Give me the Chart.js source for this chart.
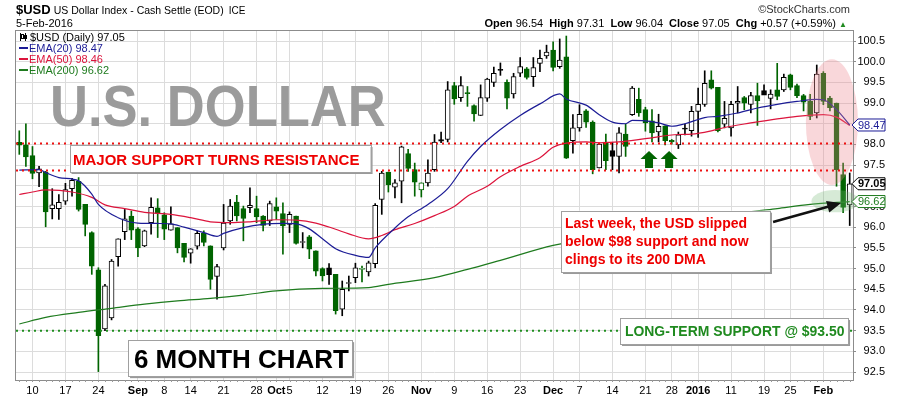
<!DOCTYPE html>
<html>
<head>
<meta charset="utf-8">
<script src="https://cdn.jsdelivr.net/npm/chart.js@4.4.1/dist/chart.umd.min.js"></script>
<style>
  html, body { margin: 0; padding: 0; background: #fff; }
  #wrap { width: 900px; height: 396px; }
</style>
</head>
<body>
<div id="wrap"><canvas id="usdChart" width="900" height="396"></canvas></div>
<script>
// $USD daily candles, 6 Aug 2015 .. 5 Feb 2016 (one entry per trading day)
const opens = [
  98.05, 97.99, 97.73, 97.31, 97.33, 96.45, 96.45, 96.63, 96.93, 97.11,
  96.55, 95.87, 94.97, 93.54, 93.81, 95.29, 95.89, 96.27, 95.96, 95.55,
  96.11, 96.47, 96.30, 95.93, 95.99, 95.61, 95.37, 95.54, 95.85, 95.55,
  94.81, 95.50, 96.15, 96.61, 96.45, 96.47, 96.45, 96.27, 96.15, 96.49,
  96.33, 96.07, 96.27, 95.63, 95.77, 95.43, 95.00, 95.02, 94.86, 94.02,
  94.64, 94.78, 94.98, 94.92, 95.12, 96.67, 97.33, 96.97, 97.11, 97.78,
  97.39, 96.90, 97.07, 97.39, 98.12, 98.12, 99.42, 99.13, 99.25, 98.94,
  98.70, 99.12, 99.50, 99.80, 99.50, 99.22, 99.72, 99.83, 99.64, 99.96,
  100.14, 100.28, 99.88, 100.12, 98.09, 98.40, 98.81, 98.54, 97.43, 98.06,
  97.85, 97.71, 98.25, 98.72, 99.09, 98.84, 98.57, 98.30, 98.45, 98.10,
  97.99, 98.39, 98.33, 98.80, 98.97, 99.56, 99.38, 98.49, 98.40, 99.00,
  99.13, 98.97, 99.18, 99.30, 99.11, 99.32, 99.32, 99.68, 99.42, 99.18,
  99.04, 98.76, 99.72, 99.12, 99.00, 97.27, 96.54
];
const highs = [
  98.33, 98.50, 97.95, 97.47, 97.35, 96.93, 96.79, 97.06, 97.18, 97.20,
  96.55, 95.89, 95.02, 94.62, 95.22, 95.72, 96.43, 96.39, 95.99, 95.93,
  96.71, 96.69, 96.35, 96.49, 95.99, 95.61, 95.48, 95.91, 95.91, 95.55,
  95.10, 96.55, 96.67, 96.77, 96.51, 96.95, 96.75, 96.28, 96.63, 96.71,
  96.59, 96.37, 96.27, 95.87, 95.80, 95.43, 95.02, 95.12, 94.86, 94.70,
  94.82, 95.13, 95.06, 95.18, 96.57, 97.35, 97.33, 97.15, 97.96, 97.88,
  97.55, 97.07, 97.63, 98.24, 98.30, 99.52, 99.50, 99.64, 99.40, 98.96,
  99.44, 99.60, 99.87, 99.97, 99.56, 99.72, 100.10, 99.86, 100.10, 100.28,
  100.40, 100.48, 100.55, 100.62, 98.72, 98.96, 98.84, 98.57, 98.03, 98.25,
  98.05, 98.41, 98.49, 99.40, 99.36, 98.90, 98.84, 98.73, 98.45, 98.12,
  98.30, 98.49, 98.92, 99.36, 99.78, 99.78, 99.38, 99.04, 99.04, 99.40,
  99.16, 99.26, 99.48, 99.44, 99.32, 99.96, 99.70, 99.70, 99.46, 99.21,
  99.21, 99.92, 99.76, 99.16, 99.00, 97.55, 97.31
];
const lows = [
  97.76, 97.47, 97.17, 96.98, 96.01, 96.20, 96.19, 96.55, 96.75, 96.39,
  95.79, 94.86, 92.51, 93.50, 93.76, 95.06, 95.70, 95.70, 95.29, 95.53,
  95.83, 95.75, 95.70, 95.93, 95.38, 95.16, 95.13, 95.47, 95.55, 94.50,
  94.26, 95.45, 96.07, 96.15, 95.67, 96.35, 96.11, 95.91, 96.04, 96.19,
  95.35, 95.87, 95.59, 95.50, 95.24, 94.82, 94.70, 94.62, 93.90, 93.86,
  94.46, 94.66, 94.68, 94.82, 95.02, 96.31, 96.85, 96.71, 96.59, 97.35,
  96.75, 96.73, 96.99, 97.35, 98.04, 98.06, 98.97, 99.04, 98.92, 98.56,
  98.70, 99.04, 99.40, 99.67, 98.86, 99.12, 99.64, 99.58, 99.40, 99.76,
  100.08, 99.78, 99.84, 97.66, 97.79, 98.32, 98.41, 97.29, 97.43, 97.39,
  97.39, 97.31, 97.71, 98.70, 98.68, 98.32, 98.06, 98.06, 97.99, 98.01,
  97.90, 98.23, 98.20, 98.17, 98.92, 99.34, 98.30, 98.40, 98.20, 98.76,
  98.84, 98.76, 98.46, 99.20, 98.86, 99.08, 99.28, 99.32, 99.13, 98.81,
  98.60, 98.64, 98.96, 98.81, 96.99, 96.35, 96.04
];
const closes = [
  97.98, 97.70, 97.30, 97.41, 96.37, 96.54, 96.60, 96.91, 97.13, 96.43,
  96.07, 95.06, 93.38, 94.58, 95.18, 95.72, 96.20, 95.93, 95.50, 95.91,
  96.48, 96.33, 95.95, 96.08, 95.50, 95.27, 95.48, 95.85, 95.63, 94.74,
  95.05, 96.10, 96.51, 96.27, 96.21, 96.53, 96.25, 96.04, 96.57, 96.39,
  96.03, 96.31, 95.61, 95.64, 95.47, 94.94, 94.82, 94.85, 93.98, 94.50,
  94.65, 95.02, 95.00, 95.14, 96.53, 97.31, 97.03, 97.07, 97.94, 97.42,
  97.09, 97.07, 97.31, 98.06, 98.08, 99.32, 99.10, 99.42, 99.23, 98.74,
  99.13, 99.58, 99.72, 99.79, 99.12, 99.64, 99.88, 99.62, 99.86, 100.08,
  100.23, 99.86, 100.04, 97.67, 98.40, 98.73, 98.54, 97.39, 98.01, 97.61,
  97.71, 98.28, 97.95, 99.36, 98.76, 98.52, 98.28, 98.44, 98.09, 98.06,
  98.23, 98.37, 98.80, 98.97, 99.48, 99.36, 98.33, 98.63, 98.97, 99.04,
  99.00, 99.18, 99.05, 99.19, 99.22, 99.16, 99.62, 99.38, 99.18, 99.02,
  98.68, 99.70, 99.04, 98.89, 97.39, 96.48, 97.05
];

const ema20At = [0, 3, 4, 6, 9, 11, 12, 15, 18, 21, 23, 25, 28, 30, 31, 34, 37, 40, 42, 44, 46, 48, 51, 53, 54, 57, 59, 62, 65, 68, 70, 73, 76, 79, 82, 83, 86, 88, 90, 92, 93, 95, 97, 99, 101, 104, 106, 109, 112, 115, 118, 121, 122, 124, 126];
const ema20 = [97.38, 97.39, 97.32, 97.20, 97.12, 96.80, 96.55, 96.23, 96.10, 96.09, 96.08, 96.00, 95.87, 95.78, 95.85, 95.99, 96.07, 96.09, 96.08, 95.96, 95.72, 95.48, 95.32, 95.27, 95.50, 95.98, 96.25, 96.55, 96.93, 97.59, 97.95, 98.36, 98.70, 98.98, 99.22, 99.10, 98.95, 98.72, 98.54, 98.50, 98.58, 98.57, 98.52, 98.44, 98.50, 98.65, 98.68, 98.76, 98.88, 98.97, 99.04, 99.09, 99.08, 98.84, 98.47];
const ema50At = [0, 2, 4, 8, 11, 13, 16, 19, 23, 26, 29, 32, 35, 39, 42, 45, 48, 50, 53, 55, 57, 60, 63, 66, 68, 71, 73, 76, 79, 81, 83, 86, 88, 91, 95, 100, 102, 105, 107, 111, 115, 118, 122, 124, 126];
const ema50 = [96.79, 96.85, 96.90, 96.85, 96.72, 96.54, 96.45, 96.36, 96.31, 96.23, 96.13, 96.11, 96.13, 96.18, 96.17, 96.10, 95.95, 95.84, 95.72, 95.80, 95.94, 96.09, 96.28, 96.50, 96.75, 96.99, 97.22, 97.47, 97.68, 97.93, 98.03, 98.06, 98.04, 98.06, 98.14, 98.24, 98.25, 98.33, 98.41, 98.52, 98.62, 98.68, 98.72, 98.66, 98.46];
const ema200At = [0, 4, 9, 14, 19, 24, 29, 34, 39, 46, 53, 56, 63, 68, 73, 81, 90, 100, 110, 115, 120, 126];
const ema200 = [93.66, 93.82, 93.94, 94.04, 94.14, 94.22, 94.28, 94.36, 94.46, 94.52, 94.54, 94.62, 94.78, 94.98, 95.20, 95.56, 95.82, 96.10, 96.35, 96.45, 96.55, 96.62];

// weekly date ticks (candle index -> label)
const tickPos = [2, 7, 12, 18, 22, 26, 31, 36, 39, 41, 46, 51, 56, 61, 66, 71, 76, 81, 85, 90, 95, 99, 103, 108, 113, 117, 122];
const tickText = ['10', '17', '24', 'Sep', '8', '14', '21', '28', 'Oct', '5', '12', '19', '26', 'Nov', '9', '16', '23', 'Dec', '7', '14', '21', '28', '2016', '11', '19', '25', 'Feb'];
const boldTicks = ['Sep', 'Oct', 'Nov', 'Dec', '2016', 'Feb'];

const FONT = '"Liberation Sans", Arial, sans-serif';
const GREEN = '#006400';
const BLUE = '#1c1c96';
const RED = '#dc143c';
const EMA_GREEN = '#1e7b1e';

const candleColor = closes.map((c, i) => (i > 0 && c >= closes[i - 1]) ? '#000000' : GREEN);
const bodyFill = closes.map((c, i) => c > opens[i] ? '#ffffff' : candleColor[i]);

function pts(at, vals) {
    return at.map((x, k) => ({ x: x, y: vals[k] }));
}

function box(ctx, x0, y0, x1, y1) {
    ctx.fillStyle = '#9a9a9a';
    ctx.fillRect(x0 + 2, y0 + 2, x1 - x0, y1 - y0);
    ctx.fillStyle = '#ffffff';
    ctx.fillRect(x0, y0, x1 - x0, y1 - y0);
    ctx.strokeStyle = '#a0a0a0';
    ctx.lineWidth = 1;
    ctx.strokeRect(Math.round(x0) + 0.5, Math.round(y0) + 0.5, Math.round(x1 - x0), Math.round(y1 - y0));
}

function priceTag(ctx, x, y, text, color, bold) {
    ctx.beginPath();
    ctx.moveTo(x, y);
    ctx.lineTo(x + 6, y - 6);
    ctx.lineTo(x + 33, y - 6);
    ctx.lineTo(x + 33, y + 6);
    ctx.lineTo(x + 6, y + 6);
    ctx.closePath();
    ctx.fillStyle = '#fff';
    ctx.fill();
    ctx.strokeStyle = color;
    ctx.lineWidth = 1;
    ctx.stroke();
    ctx.fillStyle = bold ? '#000' : color;
    ctx.font = (bold ? 'bold ' : '') + '11px ' + FONT;
    ctx.textAlign = 'left';
    ctx.textBaseline = 'middle';
    ctx.fillText(text, x + 6, y + 0.5);
}

const notesPlugin = {
    id: 'notes',
    afterDatasetsDraw(chart) {
        const ctx = chart.ctx;
        const xs = chart.scales.x, ys = chart.scales.y;
        const px = v => xs.getPixelForValue(v);
        const py = v => ys.getPixelForValue(v);
        const area = chart.chartArea;
        ctx.save();

        // highlight ellipses
        ctx.fillStyle = 'rgba(235, 130, 140, 0.32)';
        ctx.beginPath();
        ctx.ellipse(px(123.3), py(98.54), px(127.25) - px(123.3), py(97.02) - py(98.54), 0, 0, Math.PI * 2);
        ctx.fill();
        ctx.fillStyle = 'rgba(120, 185, 120, 0.30)';
        ctx.beginPath();
        ctx.ellipse(px(123.8), py(96.63), px(127.4) - px(123.8), py(96.36) - py(96.63), 0, 0, Math.PI * 2);
        ctx.fill();

        // dotted support / resistance lines
        ctx.lineWidth = 2;
        ctx.setLineDash([2, 4]);
        ctx.strokeStyle = '#ee1111';
        [98.02, 97.37].forEach(v => {
            ctx.beginPath();
            ctx.moveTo(area.left, py(v));
            ctx.lineTo(area.right, py(v));
            ctx.stroke();
        });
        ctx.strokeStyle = '#1f8f1f';
        ctx.beginPath();
        ctx.moveTo(area.left, py(93.5));
        ctx.lineTo(area.right, py(93.5));
        ctx.stroke();
        ctx.setLineDash([]);

        // big watermark title
        ctx.fillStyle = '#9b9b9b';
        ctx.font = 'bold 58px ' + FONT;
        ctx.textAlign = 'left';
        ctx.textBaseline = 'alphabetic';
        ctx.fillText('U.S. DOLLAR', px(4.66), py(98.45), px(55.6) - px(4.66));

        // text boxes
        box(ctx, px(7.62), py(97.986), px(53.3), py(97.334));
        ctx.fillStyle = '#ee0000';
        ctx.font = 'bold 15px ' + FONT;
        ctx.fillText('MAJOR SUPPORT TURNS RESISTANCE', px(8.15), py(97.5));

        box(ctx, px(91.15), py(93.805), px(125.75), py(93.177));
        ctx.fillStyle = '#1f8a1f';
        ctx.font = 'bold 14px ' + FONT;
        ctx.fillText('LONG-TERM SUPPORT @ $93.50', px(91.9), py(93.37), px(125.2) - px(91.9));

        box(ctx, px(16.5), py(93.27), px(50.5), py(92.40));
        ctx.fillStyle = '#000';
        ctx.font = 'bold 26px ' + FONT;
        ctx.fillText('6 MONTH CHART', px(17.4), py(92.6), px(50.0) - px(17.4));

        box(ctx, px(82.2), py(96.40), px(113.9), py(94.917));
        ctx.fillStyle = '#ee0000';
        ctx.font = 'bold 14px ' + FONT;
        ctx.fillText('Last week, the USD slipped', px(82.8), py(95.98));
        ctx.fillText('below $98 support and now', px(82.8), py(95.545));
        ctx.fillText('clings to its 200 DMA', px(82.8), py(95.11));

        // pointer arrow toward the 200 DMA
        const ax0 = px(114.37), ay0 = py(96.126), ax1 = px(124.7), ay1 = py(96.585);
        const ang = Math.atan2(ay1 - ay0, ax1 - ax0);
        ctx.strokeStyle = '#111';
        ctx.fillStyle = '#111';
        ctx.lineWidth = 2.5;
        ctx.beginPath();
        ctx.moveTo(ax0, ay0);
        ctx.lineTo(ax1 - 10 * Math.cos(ang), ay1 - 10 * Math.sin(ang));
        ctx.stroke();
        ctx.beginPath();
        ctx.moveTo(ax1, ay1);
        ctx.lineTo(ax1 - 14 * Math.cos(ang) + 6 * Math.sin(ang), ay1 - 14 * Math.sin(ang) - 6 * Math.cos(ang));
        ctx.lineTo(ax1 - 14 * Math.cos(ang) - 6 * Math.sin(ang), ay1 - 14 * Math.sin(ang) + 6 * Math.cos(ang));
        ctx.closePath();
        ctx.fill();

        // green "held support" arrows
        ctx.fillStyle = GREEN;
        [95.55, 98.6].forEach(i => {
            const cx = px(i), top = py(97.84), mid = py(97.65), bot = py(97.43);
            ctx.beginPath();
            ctx.moveTo(cx, top);
            ctx.lineTo(cx + 8.5, mid);
            ctx.lineTo(cx + 4, mid);
            ctx.lineTo(cx + 4, bot);
            ctx.lineTo(cx - 4, bot);
            ctx.lineTo(cx - 4, mid);
            ctx.lineTo(cx - 8.5, mid);
            ctx.closePath();
            ctx.fill();
        });

        ctx.restore();
    },
    afterDraw(chart) {
        const ctx = chart.ctx;
        const xs = chart.scales.x, ys = chart.scales.y;
        const area = chart.chartArea;
        ctx.save();

        // plot frame
        ctx.strokeStyle = '#8c8c8c';
        ctx.lineWidth = 1;
        ctx.strokeRect(area.left - 0.5, area.top + 0.5, area.right - area.left + 1, area.bottom - area.top);

        // daily minor ticks under the plot
        ctx.strokeStyle = '#9a9a9a';
        for (let i = 0; i < closes.length; i++) {
            const x = Math.round(xs.getPixelForValue(i)) + 0.5;
            ctx.beginPath();
            ctx.moveTo(x, area.bottom);
            ctx.lineTo(x, area.bottom + 2);
            ctx.stroke();
        }

        // header
        ctx.textAlign = 'left';
        ctx.textBaseline = 'alphabetic';
        ctx.fillStyle = '#000';
        ctx.font = 'bold 13px ' + FONT;
        ctx.fillText('$USD', 16, 14);
        let hx = 16 + ctx.measureText('$USD').width + 3;
        ctx.font = '11.5px ' + FONT;
        ctx.fillText('US Dollar Index - Cash Settle (EOD)', hx, 14, 170);
        hx += Math.min(170, ctx.measureText('US Dollar Index - Cash Settle (EOD)').width) + 5;
        ctx.font = '10px ' + FONT;
        ctx.fillText('ICE', hx, 14);
        ctx.font = '11px ' + FONT;
        ctx.fillText('5-Feb-2016', 16, 26.5);

        ctx.textAlign = 'right';
        ctx.fillStyle = '#333';
        ctx.font = '11px ' + FONT;
        ctx.fillText('\u00A9StockCharts.com', 850, 13);

        // OHLC readout, drawn right to left
        const parts = [
            ['\u25B2', false, '#1f8a1f'],
            [' +0.57 (+0.59%) ', false, '#000'], ['Chg', true, '#000'],
            [' 97.05  ', false, '#000'], ['Close', true, '#000'],
            [' 96.04  ', false, '#000'], ['Low', true, '#000'],
            [' 97.31  ', false, '#000'], ['High', true, '#000'],
            [' 96.54  ', false, '#000'], ['Open', true, '#000']
        ];
        let rx = 847;
        parts.forEach(p => {
            ctx.font = (p[1] ? 'bold 11px ' : (p[0] === '\u25B2' ? '8px ' : '11px ')) + FONT;
            ctx.fillStyle = p[2];
            ctx.fillText(p[0], rx, 26.5);
            rx -= ctx.measureText(p[0]).width;
        });

        // legend inside the plot
        ctx.textAlign = 'left';
        ctx.font = '11px ' + FONT;
        ctx.fillStyle = '#000';
        ctx.fillRect(20, 33, 1, 8);
        ctx.strokeStyle = '#000';
        ctx.strokeRect(21.5, 34.5, 2, 4);
        ctx.fillRect(25, 33, 1, 8);
        ctx.fillRect(24, 35, 3, 4);
        ctx.fillText('$USD (Daily) 97.05', 30, 40.5);
        const leg = [['EMA(20) 98.47', BLUE], ['EMA(50) 98.46', RED], ['EMA(200) 96.62', EMA_GREEN]];
        leg.forEach((l, k) => {
            const y = 51.5 + k * 11;
            ctx.fillStyle = l[1];
            ctx.fillRect(19, y - 4.5, 9, 2);
            ctx.fillText(l[0], 29, y);
        });

        // last-value tags on the price axis
        const tx = area.right - 1;
        priceTag(ctx, tx, ys.getPixelForValue(98.47), '98.47', BLUE, false);
        priceTag(ctx, tx, ys.getPixelForValue(96.62), '96.62', EMA_GREEN, false);
        priceTag(ctx, tx, ys.getPixelForValue(97.05), '97.05', '#000', true);

        ctx.restore();
    }
};

new Chart(document.getElementById('usdChart'), {
    type: 'bar',
    data: {
        datasets: [
            { type: 'line', data: pts(ema20At, ema20), borderColor: BLUE, borderWidth: 1.2, pointRadius: 0, cubicInterpolationMode: 'monotone', order: 0 },
            { type: 'line', data: pts(ema50At, ema50), borderColor: RED, borderWidth: 1.2, pointRadius: 0, cubicInterpolationMode: 'monotone', order: 0 },
            { type: 'line', data: pts(ema200At, ema200), borderColor: EMA_GREEN, borderWidth: 1.2, pointRadius: 0, cubicInterpolationMode: 'monotone', order: 0 },
            {
                data: opens.map((o, i) => ({ x: i, y: [o, closes[i]] })),
                backgroundColor: bodyFill, borderColor: candleColor, borderWidth: 1,
                borderSkipped: false, barThickness: 5, minBarLength: 1, grouped: false, order: 1
            },
            {
                data: highs.map((h, i) => ({ x: i, y: [lows[i], h] })),
                backgroundColor: candleColor, borderWidth: 0,
                barThickness: 1, grouped: false, order: 2
            }
        ]
    },
    options: {
        responsive: false,
        animation: false,
        events: [],
        layout: { padding: { left: 16, top: 30, right: 15, bottom: 0 } },
        plugins: { legend: { display: false }, tooltip: { enabled: false }, title: { display: false } },
        scales: {
            x: {
                type: 'linear',
                offset: false,
                min: -0.5,
                max: closes.length - 0.5,
                afterBuildTicks: scale => { scale.ticks = tickPos.map(v => ({ value: v })); },
                afterFit: scale => { scale.height = 16; },
                grid: { color: '#dcdcdc', drawTicks: false, offset: false },
                border: { display: false },
                ticks: {
                    autoSkip: false,
                    maxRotation: 0,
                    padding: 4,
                    color: '#000',
                    callback: v => tickText[tickPos.indexOf(v)],
                    font: c => ({ family: FONT, size: 11, weight: boldTicks.includes(c.tick && c.tick.label) ? 'bold' : 'normal' })
                }
            },
            y: {
                position: 'right',
                min: 92.307,
                max: 100.766,
                afterFit: scale => { scale.width = 32; },
                grid: { color: '#dcdcdc', tickColor: '#8c8c8c', tickLength: 3 },
                border: { display: false },
                ticks: {
                    stepSize: 0.5,
                    includeBounds: false,
                    crossAlign: 'far',
                    color: '#000',
                    font: { family: FONT, size: 11 },
                    callback: v => v.toFixed(1)
                }
            }
        }
    },
    plugins: [notesPlugin]
});
</script>
</body>
</html>
